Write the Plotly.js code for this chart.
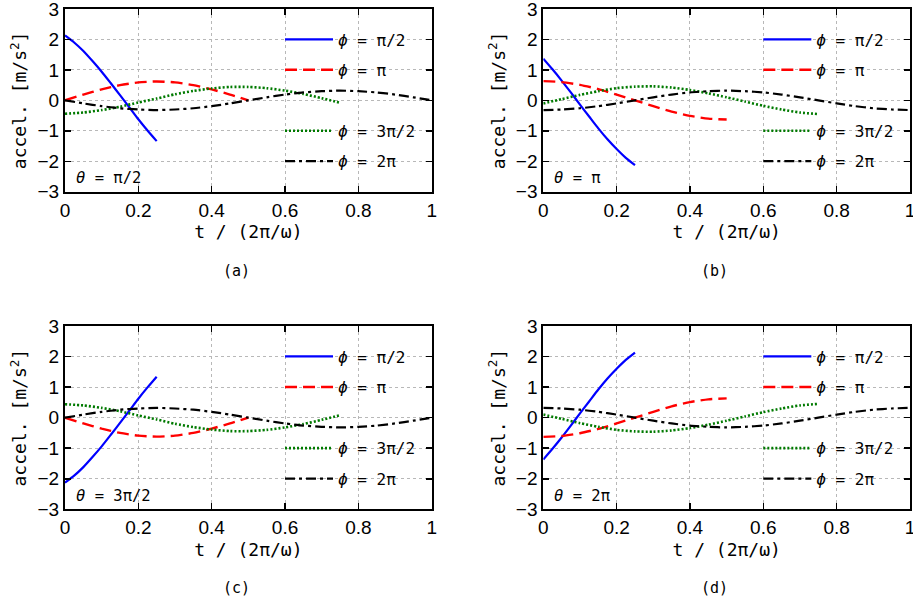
<!DOCTYPE html>
<html>
<head>
<meta charset="utf-8">
<script src="https://cdn.plot.ly/plotly-3.0.1.min.js"></script>
<style>
html,body{margin:0;padding:0;background:#fff;}
#chart{width:913px;height:598px;}
</style>
</head>
<body>
<div id="chart"></div>
<script>
// time samples (t / (2π/ω))
const tBlue  = [0,0.025,0.05,0.075,0.1,0.125,0.15,0.175,0.2,0.225,0.25];
const tRed   = [0,0.05,0.1,0.15,0.2,0.25,0.3,0.35,0.4,0.45,0.5];
const tGreen = [0,0.05,0.1,0.15,0.2,0.25,0.3,0.35,0.4,0.45,0.5,0.55,0.6,0.65,0.7,0.75];
const tBlack = [0,0.05,0.1,0.15,0.2,0.25,0.3,0.35,0.4,0.45,0.5,0.55,0.6,0.65,0.7,0.75,0.8,0.85,0.9,0.95,1];

// panel (a) θ = π/2
const aBlue  = [2.13,1.90,1.62,1.29,0.94,0.56,0.17,-0.22,-0.62,-0.99,-1.34];
const aRed   = [0,0.19,0.36,0.50,0.59,0.62,0.59,0.50,0.36,0.19,0];
const aGreen = [-0.44,-0.40,-0.32,-0.21,-0.07,0.06,0.20,0.31,0.39,0.44,0.44,0.40,0.32,0.21,0.07,-0.08];
const aBlack = [0,-0.10,-0.19,-0.26,-0.30,-0.32,-0.30,-0.26,-0.19,-0.10,0,0.10,0.19,0.26,0.30,0.32,0.30,0.26,0.19,0.10,0];

// panel (b) θ = π
const bBlue  = [1.37,1.02,0.65,0.26,-0.14,-0.53,-0.92,-1.28,-1.60,-1.89,-2.13];
const bRed   = [0.63,0.60,0.51,0.37,0.19,0,-0.19,-0.37,-0.51,-0.60,-0.63];
const bGreen = [-0.10,0.04,0.18,0.30,0.40,0.45,0.46,0.42,0.34,0.23,0.10,-0.04,-0.18,-0.30,-0.40,-0.45];
const bBlack = [-0.32,-0.30,-0.26,-0.19,-0.10,0,0.10,0.19,0.26,0.30,0.32,0.30,0.26,0.19,0.10,0,-0.10,-0.19,-0.26,-0.30,-0.32];

// panel (c) θ = 3π/2
const cBlue  = [-2.13,-1.90,-1.62,-1.29,-0.94,-0.56,-0.17,0.22,0.62,0.99,1.34];
const cRed   = [0,-0.19,-0.36,-0.50,-0.59,-0.62,-0.59,-0.50,-0.36,-0.19,0];
const cGreen = [0.44,0.40,0.32,0.21,0.07,-0.06,-0.20,-0.31,-0.39,-0.44,-0.44,-0.40,-0.32,-0.21,-0.07,0.08];
const cBlack = [0,0.10,0.19,0.26,0.30,0.32,0.30,0.26,0.19,0.10,0,-0.10,-0.19,-0.26,-0.30,-0.32,-0.30,-0.26,-0.19,-0.10,0];

// panel (d) θ = 2π
const dBlue  = [-1.37,-1.02,-0.65,-0.26,0.14,0.53,0.92,1.28,1.60,1.89,2.13];
const dRed   = [-0.63,-0.60,-0.51,-0.37,-0.19,0,0.19,0.37,0.51,0.60,0.63];
const dGreen = [0.10,-0.04,-0.18,-0.30,-0.40,-0.45,-0.46,-0.42,-0.34,-0.23,-0.10,0.04,0.18,0.30,0.40,0.45];
const dBlack = [0.32,0.30,0.26,0.19,0.10,0,-0.10,-0.19,-0.26,-0.30,-0.32,-0.30,-0.26,-0.19,-0.10,0,0.10,0.19,0.26,0.30,0.32];

const seriesNames = ['<i>ϕ</i> = π/2','<i>ϕ</i> = π','<i>ϕ</i> = 3π/2','<i>ϕ</i> = 2π'];
const thetaLabels = ['<i>θ</i> = π/2','<i>θ</i> = π','<i>θ</i> = 3π/2','<i>θ</i> = 2π'];
const panelLabels = ['(a)','(b)','(c)','(d)'];
const legendRowY = [2, 1, -1, -2];   // legend rows sit on these gridlines

const panels = [
  [aBlue,aRed,aGreen,aBlack],
  [bBlue,bRed,bGreen,bBlack],
  [cBlue,cRed,cGreen,cBlack],
  [dBlue,dRed,dGreen,dBlack]
];
const tArrays = [tBlue,tRed,tGreen,tBlack];

const styles = [
  {color:'#0000ff', width:2.2, dash:'solid'},
  {color:'#ff0000', width:2.4, dash:'12px,6px'},
  {color:'#007a00', width:2.6, dash:'2px,2px'},
  {color:'#000000', width:2.2, dash:'10px,4px,3px,4px'}
];

const W = 913, H = 598;
const xDomPx = [[65,431.7],[543.3,910],[65,431.7],[543.3,910]];
const yDomPx = [[9,191.7],[9,191.7],[326,509.3],[326,509.3]];

const TICKFONT = '"Liberation Sans", Arial, sans-serif';
const MONO = '"DejaVu Sans Mono", "Liberation Mono", monospace';
const traces = [];
const layout = {
  width: W, height: H,
  margin: {l:0, r:0, t:0, b:0},
  paper_bgcolor: '#fff', plot_bgcolor: '#fff',
  font: {family: MONO, color: '#000'},
  showlegend: true,
  annotations: []
};

let legIdx = 0;
panels.forEach((p, i) => {
  const xa = i === 0 ? 'x' : 'x' + (i + 1);
  const ya = i === 0 ? 'y' : 'y' + (i + 1);
  const xk = i === 0 ? 'xaxis' : 'xaxis' + (i + 1);
  const yk = i === 0 ? 'yaxis' : 'yaxis' + (i + 1);
  const xd = [xDomPx[i][0] / W, xDomPx[i][1] / W];
  const yd = [1 - yDomPx[i][1] / H, 1 - yDomPx[i][0] / H];

  p.forEach((vals, j) => {
    legIdx++;
    const legKey = legIdx === 1 ? 'legend' : 'legend' + legIdx;
    traces.push({
      type: 'scatter', mode: 'lines',
      x: tArrays[j], y: vals,
      xaxis: xa, yaxis: ya,
      name: seriesNames[j],
      legend: legKey,
      line: {color: styles[j].color, width: styles[j].width, dash: styles[j].dash, shape: 'spline', smoothing: 0.6},
      hoverinfo: 'skip'
    });
    const yFrac = yd[0] + (legendRowY[j] + 3) / 6 * (yd[1] - yd[0]);
    layout[legKey] = {
      x: (xDomPx[i][0] + 0.6 * (xDomPx[i][1] - xDomPx[i][0]) - 5) / W,
      xanchor: 'left',
      y: yFrac, yanchor: 'middle',
      bgcolor: 'rgba(0,0,0,0)',
      borderwidth: 0,
      itemwidth: 48,
      font: {family: MONO, size: 16, color: '#000'},
      tracegroupgap: 0
    };
  });

  layout[xk] = {
    domain: xd, anchor: ya, range: [0, 1], dtick: 0.2, tick0: 0,
    showgrid: true, gridcolor: '#b8b8b8', griddash: 'dot', gridwidth: 1,
    zeroline: false, showline: true, linecolor: '#000', linewidth: 2, mirror: 'ticks',
    ticks: 'inside', ticklen: 6, tickwidth: 1.5, tickcolor: '#000',
    ticklabeloverflow: 'allow',
    tickfont: {family: TICKFONT, size: 19, color: '#000'},
    title: {text: 't / (2π/ω)', font: {family: MONO, size: 18, color: '#000'}, standoff: 6}
  };
  layout[yk] = {
    domain: yd, anchor: xa, range: [-3, 3], dtick: 1, tick0: 0,
    showgrid: true, gridcolor: '#b8b8b8', griddash: 'dot', gridwidth: 1,
    zeroline: false, showline: true, linecolor: '#000', linewidth: 2, mirror: 'ticks',
    ticks: 'inside', ticklen: 6, tickwidth: 1.5, tickcolor: '#000',
    ticklabeloverflow: 'allow',
    tickfont: {family: TICKFONT, size: 19, color: '#000'},
    title: {text: 'accel. [m/s<sup>2</sup>]', font: {family: MONO, size: 18, color: '#000'}, standoff: 6}
  };

  layout.annotations.push({
    xref: xa + ' domain', yref: ya + ' domain',
    x: 0.025, y: 0.075, xanchor: 'left', yanchor: 'middle',
    text: thetaLabels[i], showarrow: false,
    font: {family: MONO, size: 15.5, color: '#000'}
  });
  layout.annotations.push({
    xref: 'paper', yref: 'paper',
    x: (xDomPx[i][0] + xDomPx[i][1]) / 2 / W - 12 / W, y: yd[0] - 79 / H,
    xanchor: 'center', yanchor: 'middle',
    text: panelLabels[i], showarrow: false,
    font: {family: MONO, size: 15, color: '#000'}
  });
});

Plotly.newPlot('chart', traces, layout, {displayModeBar: false, staticPlot: true});
</script>
</body>
</html>
